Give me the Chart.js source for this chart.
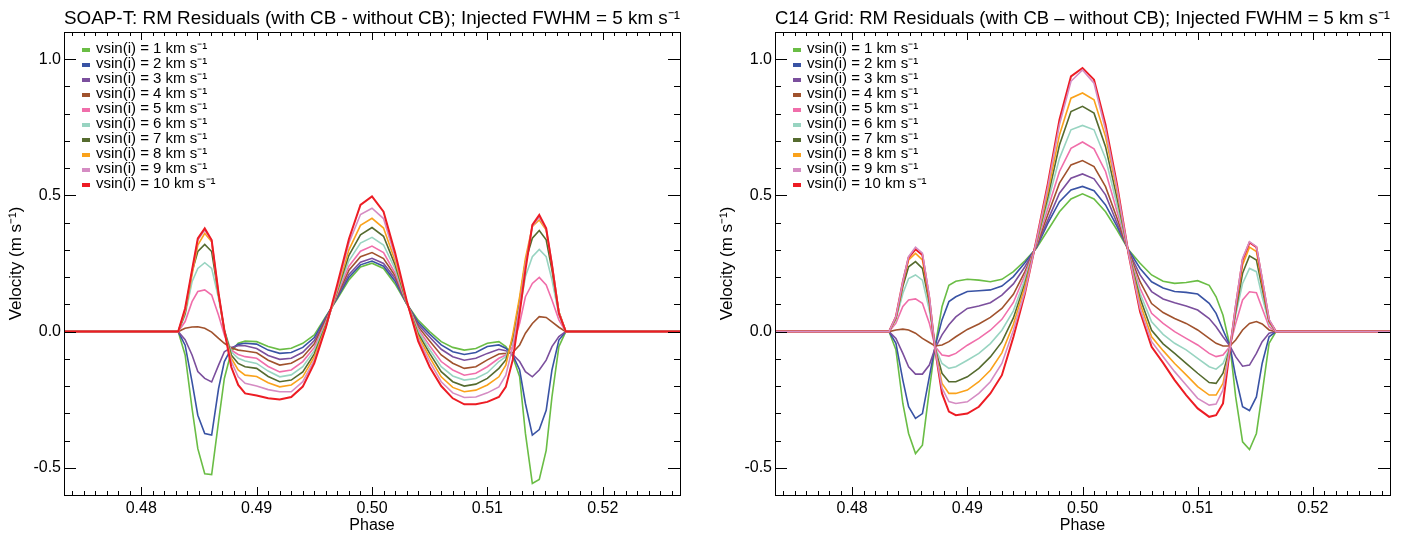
<!DOCTYPE html>
<html>
<head>
<meta charset="utf-8">
<script src="https://cdn.jsdelivr.net/npm/chart.js@4.4.0/dist/chart.umd.min.js"></script>
<style>
  html, body { margin: 0; padding: 0; background: #fff; }
  .panel { position: absolute; top: 0; width: 708px; height: 535px; }
</style>
</head>
<body>
<div class="panel" style="left:0"><canvas id="soap" width="708" height="535"></canvas></div>
<div class="panel" style="left:708px"><canvas id="c14" width="708" height="535"></canvas></div>
<script>
// orbital phase samples (shared by both panels)
const phase = [0.4733, 0.4832, 0.4838, 0.4844, 0.4849, 0.4855, 0.4861, 0.4867, 0.4872, 0.4878, 0.4884, 0.4890,
  0.4900, 0.4910, 0.4920, 0.4930, 0.4940, 0.4950, 0.4960, 0.4970, 0.4980, 0.4990, 0.5000, 0.5010, 0.5020,
  0.5030, 0.5040, 0.5050, 0.5060, 0.5070, 0.5080, 0.5090, 0.5100,
  0.5110, 0.5116, 0.5122, 0.5128, 0.5133, 0.5139, 0.5145, 0.5151, 0.5156, 0.5162, 0.5168, 0.5267];

const vsini = [1, 2, 3, 4, 5, 6, 7, 8, 9, 10];
const colors = ['#6abd45', '#3953a4', '#7b4f9d', '#a0522d', '#f06eaa', '#98d4c1', '#556b2f', '#faa21b', '#d58cc3', '#ed1c24'];

const xTicks = [0.48, 0.49, 0.50, 0.51, 0.52];
const yTicks = [-0.5, 0.0, 0.5, 1.0];

// SOAP-T residuals (m/s)
const soapV1 = [0, 0, -0.086, -0.282, -0.43, -0.522, -0.525, -0.33, -0.172, -0.074, -0.043, -0.035,
  -0.037, -0.055, -0.066, -0.061, -0.043, -0.012, 0.056, 0.12, 0.19, 0.237, 0.251, 0.232, 0.175, 0.102, 0.042, 0.0, -0.037, -0.058, -0.068, -0.062, -0.043,
  -0.037, -0.055, -0.092, -0.166, -0.374, -0.558, -0.543, -0.436, -0.24, -0.055, 0, 0];
const soapV2 = [0, 0, -0.05, -0.185, -0.307, -0.374, -0.38, -0.209, -0.11, -0.062, -0.047, -0.043,
  -0.046, -0.068, -0.08, -0.077, -0.058, -0.022, 0.052, 0.125, 0.2, 0.245, 0.259, 0.24, 0.185, 0.103, 0.034, -0.009, -0.049, -0.074, -0.084, -0.077, -0.055,
  -0.049, -0.061, -0.086, -0.141, -0.264, -0.38, -0.36, -0.289, -0.141, -0.031, 0, 0];
const soapV3 = [0, 0, -0.03, -0.086, -0.147, -0.172, -0.185, -0.123, -0.074, -0.058, -0.052, -0.052,
  -0.062, -0.088, -0.102, -0.098, -0.076, -0.033, 0.048, 0.13, 0.21, 0.255, 0.269, 0.25, 0.195, 0.104, 0.026, -0.02, -0.065, -0.092, -0.105, -0.098, -0.08,
  -0.065, -0.07, -0.084, -0.11, -0.147, -0.166, -0.141, -0.105, -0.055, -0.018, 0, 0];
const soapV4 = [0, 0, 0.012, 0.017, 0.018, 0.012, -0.002, -0.025, -0.043, -0.059, -0.068, -0.071,
  -0.078, -0.105, -0.123, -0.116, -0.093, -0.045, 0.042, 0.135, 0.225, 0.275, 0.29, 0.268, 0.205, 0.105, 0.018, -0.035, -0.086, -0.116, -0.135, -0.129, -0.104,
  -0.082, -0.08, -0.077, -0.049, -0.006, 0.03, 0.055, 0.052, 0.036, 0.016, 0, 0];
const soapV5 = [0, 0, 0.037, 0.11, 0.147, 0.153, 0.134, 0.06, -0.012, -0.068, -0.084, -0.092,
  -0.098, -0.128, -0.148, -0.141, -0.11, -0.058, 0.036, 0.14, 0.24, 0.295, 0.314, 0.29, 0.215, 0.106, 0.01, -0.052, -0.11, -0.141, -0.16, -0.153, -0.129,
  -0.098, -0.086, -0.055, 0.03, 0.128, 0.177, 0.199, 0.171, 0.116, 0.043, 0, 0];
const soapV6 = [0, 0, 0.06, 0.183, 0.232, 0.253, 0.232, 0.122, 0.006, -0.074, -0.098, -0.108,
  -0.117, -0.145, -0.166, -0.159, -0.129, -0.07, 0.03, 0.145, 0.26, 0.325, 0.346, 0.318, 0.23, 0.108, 0.002, -0.066, -0.129, -0.163, -0.178, -0.172, -0.151,
  -0.11, -0.092, -0.037, 0.08, 0.202, 0.275, 0.302, 0.275, 0.19, 0.061, 0, 0];
const soapV7 = [0, 0, 0.067, 0.22, 0.294, 0.32, 0.294, 0.134, 0.006, -0.086, -0.117, -0.129,
  -0.135, -0.165, -0.184, -0.178, -0.148, -0.082, 0.024, 0.15, 0.28, 0.355, 0.382, 0.35, 0.245, 0.109, -0.008, -0.08, -0.147, -0.184, -0.2, -0.193, -0.172,
  -0.135, -0.104, -0.025, 0.116, 0.257, 0.343, 0.371, 0.337, 0.226, 0.073, 0, 0];
const soapV8 = [0, 0, 0.073, 0.208, 0.318, 0.361, 0.33, 0.134, 0.0, -0.098, -0.141, -0.16,
  -0.165, -0.188, -0.203, -0.196, -0.166, -0.093, 0.02, 0.155, 0.3, 0.39, 0.416, 0.38, 0.26, 0.111, -0.016, -0.095, -0.166, -0.205, -0.221, -0.215, -0.196,
  -0.166, -0.123, -0.012, 0.128, 0.269, 0.386, 0.41, 0.373, 0.245, 0.073, 0, 0];
const soapV9 = [0, 0, 0.08, 0.22, 0.336, 0.373, 0.334, 0.14, 0.0, -0.11, -0.166, -0.19,
  -0.2, -0.213, -0.221, -0.221, -0.184, -0.105, 0.015, 0.162, 0.325, 0.43, 0.453, 0.415, 0.275, 0.113, -0.025, -0.11, -0.184, -0.225, -0.242, -0.24, -0.225,
  -0.203, -0.16, -0.055, 0.092, 0.245, 0.388, 0.42, 0.376, 0.251, 0.07, 0, 0];
const soapV10 = [0, 0, 0.086, 0.226, 0.342, 0.379, 0.336, 0.14, 0.005, -0.13, -0.196, -0.227,
  -0.235, -0.245, -0.249, -0.24, -0.202, -0.116, 0.015, 0.175, 0.34, 0.465, 0.496, 0.44, 0.29, 0.115, -0.035, -0.13, -0.2, -0.245, -0.267, -0.267, -0.258,
  -0.24, -0.203, -0.104, 0.068, 0.226, 0.392, 0.428, 0.379, 0.245, 0.067, 0, 0];

// C14 grid residuals (m/s)
const c14V1 = [0, 0, -0.067, -0.264, -0.374, -0.448, -0.417, -0.215, -0.055, 0.091, 0.17, 0.185,
  0.192, 0.189, 0.183, 0.192, 0.22, 0.26, 0.306, 0.373, 0.44, 0.487, 0.506, 0.487, 0.44, 0.373, 0.3, 0.251, 0.208, 0.185, 0.177, 0.18, 0.187,
  0.17, 0.128, 0.06, -0.052, -0.24, -0.405, -0.433, -0.374, -0.227, -0.043, 0, 0];
const c14V2 = [0, 0, -0.043, -0.178, -0.276, -0.319, -0.301, -0.166, -0.055, 0.043, 0.11, 0.128,
  0.147, 0.15, 0.153, 0.167, 0.202, 0.253, 0.308, 0.398, 0.477, 0.52, 0.533, 0.517, 0.465, 0.386, 0.3, 0.232, 0.183, 0.16, 0.147, 0.144, 0.138,
  0.104, 0.067, 0.006, -0.052, -0.165, -0.276, -0.29, -0.24, -0.117, -0.019, 0, 0];
const c14V3 = [0, 0, -0.025, -0.08, -0.129, -0.156, -0.156, -0.123, -0.061, -0.012, 0.025, 0.054,
  0.085, 0.094, 0.106, 0.134, 0.175, 0.238, 0.312, 0.41, 0.508, 0.563, 0.579, 0.561, 0.502, 0.398, 0.296, 0.208, 0.147, 0.12, 0.106, 0.094, 0.079,
  0.048, 0.018, -0.019, -0.053, -0.092, -0.127, -0.123, -0.08, -0.037, -0.006, 0, 0];
const c14V4 = [0, 0, 0.006, 0.009, 0.006, -0.006, -0.025, -0.04, -0.053, -0.049, -0.037, -0.019,
  0.008, 0.028, 0.052, 0.085, 0.137, 0.22, 0.315, 0.431, 0.545, 0.612, 0.628, 0.606, 0.532, 0.416, 0.294, 0.183, 0.103, 0.07, 0.048, 0.03, 0.006,
  -0.025, -0.043, -0.053, -0.053, -0.031, 0.006, 0.03, 0.037, 0.028, 0.006, 0, 0];
const c14V5 = [0, 0, 0.031, 0.092, 0.116, 0.12, 0.104, 0.031, -0.055, -0.086, -0.09, -0.08,
  -0.05, -0.025, 0.005, 0.045, 0.107, 0.208, 0.32, 0.453, 0.588, 0.673, 0.696, 0.671, 0.588, 0.441, 0.291, 0.159, 0.067, 0.03, 0.0, -0.025, -0.049,
  -0.08, -0.092, -0.086, -0.055, 0.03, 0.116, 0.146, 0.143, 0.086, 0.018, 0, 0];
const c14V6 = [0, 0, 0.043, 0.14, 0.195, 0.208, 0.189, 0.079, -0.058, -0.117, -0.135, -0.129,
  -0.105, -0.08, -0.044, 0.005, 0.076, 0.192, 0.324, 0.477, 0.636, 0.741, 0.757, 0.741, 0.636, 0.465, 0.29, 0.14, 0.036, -0.01, -0.043, -0.067, -0.098,
  -0.129, -0.138, -0.117, -0.058, 0.061, 0.177, 0.232, 0.22, 0.128, 0.03, 0, 0];
const c14V7 = [0, 0, 0.049, 0.165, 0.238, 0.257, 0.232, 0.104, -0.061, -0.153, -0.184, -0.184,
  -0.166, -0.135, -0.093, -0.038, 0.05, 0.177, 0.327, 0.496, 0.685, 0.808, 0.827, 0.802, 0.679, 0.49, 0.289, 0.122, 0.005, -0.045, -0.08, -0.117, -0.153,
  -0.187, -0.19, -0.153, -0.06, 0.073, 0.214, 0.278, 0.263, 0.159, 0.037, 0, 0];
const c14V8 = [0, 0, 0.051, 0.177, 0.263, 0.287, 0.263, 0.116, -0.062, -0.19, -0.227, -0.227,
  -0.215, -0.184, -0.142, -0.078, 0.027, 0.165, 0.33, 0.514, 0.722, 0.857, 0.876, 0.851, 0.716, 0.514, 0.287, 0.103, -0.019, -0.07, -0.117, -0.159, -0.202,
  -0.233, -0.233, -0.19, -0.062, 0.086, 0.245, 0.31, 0.294, 0.177, 0.04, 0, 0];
const c14V9 = [0, 0, 0.055, 0.183, 0.275, 0.31, 0.288, 0.129, -0.064, -0.208, -0.257, -0.264,
  -0.258, -0.227, -0.184, -0.117, 0.005, 0.147, 0.333, 0.533, 0.76, 0.919, 0.961, 0.912, 0.741, 0.527, 0.286, 0.085, -0.037, -0.092, -0.147, -0.196, -0.245,
  -0.27, -0.266, -0.214, -0.063, 0.095, 0.269, 0.33, 0.312, 0.196, 0.045, 0, 0];
const c14V10 = [0, 0, 0.055, 0.183, 0.272, 0.302, 0.281, 0.123, -0.065, -0.227, -0.294, -0.307,
  -0.301, -0.276, -0.227, -0.16, -0.02, 0.14, 0.336, 0.545, 0.778, 0.937, 0.968, 0.925, 0.76, 0.539, 0.285, 0.073, -0.056, -0.115, -0.178, -0.233, -0.282,
  -0.313, -0.307, -0.264, -0.064, 0.092, 0.263, 0.327, 0.31, 0.19, 0.042, 0, 0];

const soapSeries = [soapV1, soapV2, soapV3, soapV4, soapV5, soapV6, soapV7, soapV8, soapV9, soapV10];
const c14Series = [c14V1, c14V2, c14V3, c14V4, c14V5, c14V6, c14V7, c14V8, c14V9, c14V10];

const FONT = "'Liberation Sans', Arial, Helvetica, sans-serif";
Chart.defaults.font.family = FONT;
Chart.defaults.color = '#000';

// box with inward ticks on all four sides, like the IDL plot
const frame = {
  id: 'frame',
  afterDatasetsDraw(chart) {
    const { ctx, chartArea: a, scales: { x, y } } = chart;
    ctx.save();
    ctx.strokeStyle = '#000';
    ctx.lineWidth = 1;
    ctx.beginPath();
    for (let k = 474; k <= 526; k++) {
      const px = Math.round(x.getPixelForValue(k / 1000)) + 0.5;
      const len = k % 10 === 0 ? 8 : 4;
      ctx.moveTo(px, a.bottom); ctx.lineTo(px, a.bottom - len);
      ctx.moveTo(px, a.top); ctx.lineTo(px, a.top + len);
    }
    for (let k = -5; k <= 10; k++) {
      const py = Math.round(y.getPixelForValue(k / 10)) + 0.5;
      const len = k % 5 === 0 ? 12 : 6;
      ctx.moveTo(a.left, py); ctx.lineTo(a.left + len, py);
      ctx.moveTo(a.right, py); ctx.lineTo(a.right - len, py);
    }
    ctx.stroke();
    ctx.strokeRect(Math.round(a.left) + 0.5, Math.round(a.top) + 0.5,
      Math.round(a.right - a.left), Math.round(a.bottom - a.top));
    ctx.restore();
  }
};

// legend drawn inside the plot area, top-left
const innerLegend = {
  id: 'innerLegend',
  afterDraw(chart) {
    const { ctx, chartArea: a } = chart;
    ctx.save();
    ctx.font = '15px ' + FONT;
    ctx.textBaseline = 'middle';
    chart.data.datasets.forEach((ds, i) => {
      const yy = a.top + 17 + i * 15;
      ctx.fillStyle = ds.borderColor;
      ctx.fillRect(a.left + 18, yy - 1, 8, 4);
      ctx.fillStyle = '#000';
      ctx.fillText(ds.label, a.left + 32, yy);
    });
    ctx.restore();
  }
};

function makeChart(id, title, series, yWidth, padRight, titleOffset, topIndex) {
  const datasets = series.map((vals, i) => ({
    label: 'vsin(i) = ' + vsini[i] + ' km s\u207B\u00B9',
    data: phase.map((p, j) => ({ x: p, y: vals[j] })),
    borderColor: colors[i],
    borderWidth: i === 9 ? 2 : 1.6,
    pointRadius: 0,
    tension: 0,
    order: i === topIndex ? 0 : 10 - i
  }));
  return new Chart(document.getElementById(id), {
    type: 'line',
    data: { datasets },
    options: {
      responsive: false,
      animation: false,
      devicePixelRatio: 1,
      layout: { padding: { left: 0, right: padRight, top: 0, bottom: 0 } },
      plugins: {
        legend: { display: false },
        tooltip: { enabled: false },
        title: {
          display: true,
          text: title,
          fullSize: false,
          color: '#000',
          font: { size: 19, weight: 'normal' },
          padding: { top: 7, bottom: 2.2 }
        }
      },
      scales: {
        x: {
          type: 'linear',
          min: 0.4733,
          max: 0.5267,
          afterBuildTicks: (s) => { s.ticks = xTicks.map(v => ({ value: v })); },
          afterFit: (s) => { s.height = 40; },
          ticks: { font: { size: 16 }, padding: 4, maxRotation: 0, callback: (v) => v.toFixed(2) },
          grid: { display: false, drawTicks: false },
          border: { display: false },
          title: { display: true, text: 'Phase', font: { size: 16 }, padding: { top: 0, bottom: 0 } }
        },
        y: {
          min: -0.6,
          max: 1.1,
          afterBuildTicks: (s) => { s.ticks = yTicks.map(v => ({ value: v })); },
          afterFit: (s) => { s.width = yWidth; },
          ticks: { font: { size: 16 }, padding: 3, callback: (v) => v.toFixed(1) },
          grid: { display: false, drawTicks: false },
          border: { display: false },
          title: { display: true, text: 'Velocity (m s\u207B\u00B9)', font: { size: 17 }, padding: { top: titleOffset, bottom: 0 } }
        }
      }
    },
    plugins: [frame, innerLegend]
  });
}

makeChart('soap', 'SOAP-T: RM Residuals (with CB - without CB); Injected FWHM = 5 km s\u207B\u00B9',
  soapSeries, 64, 28, 6.5, 9);
makeChart('c14', 'C14 Grid: RM Residuals (with CB \u2013 without CB); Injected FWHM = 5 km s\u207B\u00B9',
  c14Series, 67, 26, 9.5, 8);
</script>
</body>
</html>
